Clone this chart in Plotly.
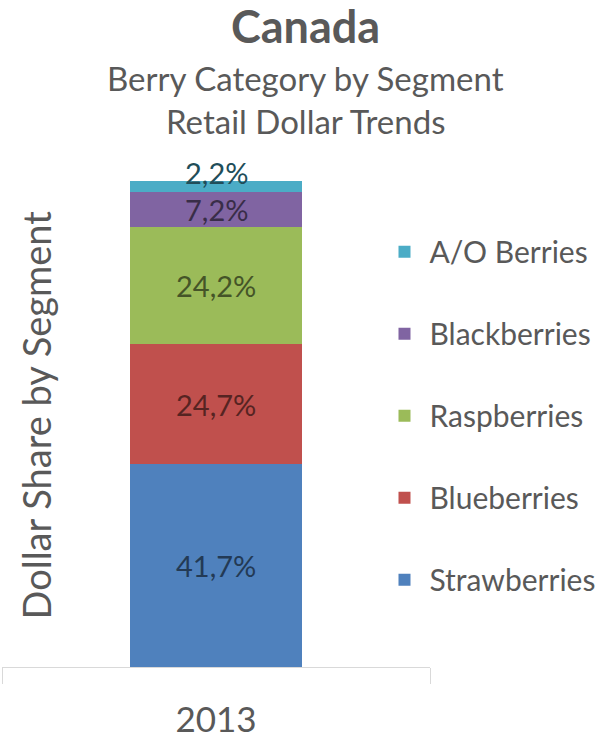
import plotly.graph_objects as go

# Berry category dollar share by segment, Canada 2013
years = ["2013"]
segments = ["Strawberries", "Blueberries", "Raspberries", "Blackberries", "A/O Berries"]
shares = [41.7, 24.7, 24.2, 7.2, 2.2]
colors = ["#4F81BD", "#C0504D", "#9BBB59", "#8064A2", "#4BACC6"]

FONT = "Lato"
GREY = "#595959"
LABEL_SIZE = 29


def darken(hex_color, factor=0.45):
    """Deep shade of a segment colour, used for its value label."""
    h = hex_color.lstrip("#")
    r, g, b = (int(h[i:i + 2], 16) for i in (0, 2, 4))
    return "rgb({},{},{})".format(int(r * factor), int(g * factor), int(b * factor))


fig = go.Figure()
for i, (name, val, col) in enumerate(zip(segments, shares, colors)):
    fig.add_trace(go.Bar(
        x=years,
        y=[val],
        name=name,
        legendgroup=name,
        legendrank=len(segments) - i,   # top segment listed first
        marker=dict(color=col, line=dict(width=0)),
        width=0.40,
        hoverinfo="skip",
    ))

# value labels: centred in each segment; a segment too thin for its label
# gets the label sitting on the segment's lower edge instead
annotations = []
base = 0.0
for val, col in zip(shares, colors):
    label = f"{val:.1f}%".replace(".", ",")
    thin = val < 5
    annotations.append(dict(
        x=0, y=base if thin else base + val / 2,
        xref="x", yref="y",
        text=label, showarrow=False,
        xanchor="center", yanchor="bottom" if thin else "middle",
        font=dict(family=FONT, size=LABEL_SIZE, color=darken(col)),
    ))
    base += val

annotations += [
    dict(text="<b>Canada</b>", xref="paper", yref="paper", x=0.71, y=1.319,
         xanchor="center", yanchor="middle", showarrow=False,
         font=dict(family=FONT, size=45, color=GREY)),
    dict(text="Berry Category by Segment", xref="paper", yref="paper", x=0.71, y=1.212,
         xanchor="center", yanchor="middle", showarrow=False,
         font=dict(family=FONT, size=33, color=GREY)),
    dict(text="Retail Dollar Trends", xref="paper", yref="paper", x=0.71, y=1.123,
         xanchor="center", yanchor="middle", showarrow=False,
         font=dict(family=FONT, size=33, color=GREY)),
    dict(text="Dollar Share by Segment", xref="paper", yref="paper", x=0.080, y=0.518,
         xanchor="center", yanchor="middle", showarrow=False, textangle=-90,
         font=dict(family=FONT, size=38, color=GREY)),
]

fig.update_layout(
    barmode="stack",
    width=606,
    height=741,
    margin=dict(l=2, r=176, t=181, b=74),
    paper_bgcolor="white",
    plot_bgcolor="white",
    font=dict(family=FONT, color=GREY),
    showlegend=True,
    legend=dict(
        traceorder="grouped",
        x=0.882,
        xanchor="left",
        y=0.908,
        yanchor="top",
        font=dict(family=FONT, size=30, color=GREY),
        tracegroupgap=40,
        itemwidth=40,
        bgcolor="rgba(0,0,0,0)",
    ),
    xaxis=dict(
        type="category",
        showline=True,
        linecolor="#D9D9D9",
        linewidth=1,
        ticks="outside",
        tickson="boundaries",
        ticklen=16,
        tickcolor="#D9D9D9",
        ticklabelstandoff=22,
        tickfont=dict(family=FONT, size=35, color=GREY),
        showgrid=False,
        range=[-0.5, 0.5],
        fixedrange=True,
    ),
    yaxis=dict(
        range=[0, 100],
        showticklabels=False,
        showgrid=False,
        zeroline=False,
        showline=False,
        ticks="",
    ),
    annotations=annotations,
)

fig.write_html("out.html")
